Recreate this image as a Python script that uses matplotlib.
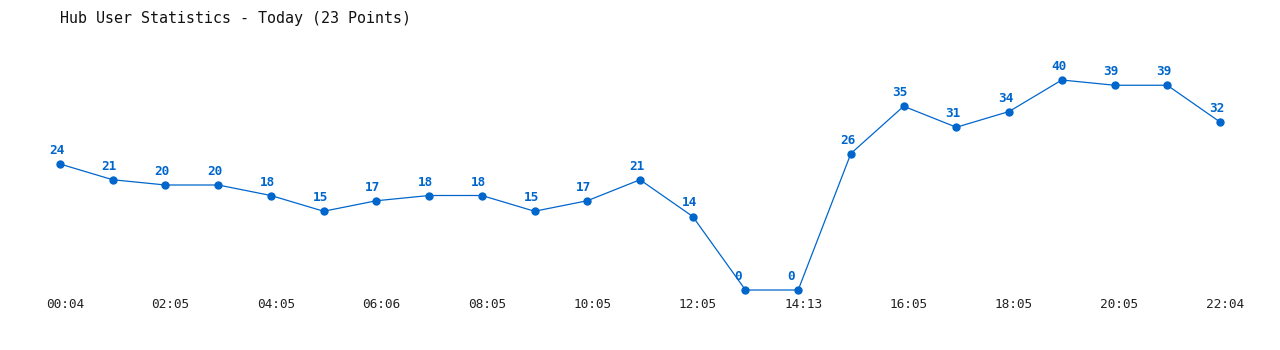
import matplotlib
matplotlib.use("Agg")
import matplotlib.pyplot as plt
import matplotlib.transforms as mtransforms

# data
times = ["00:04", "01:05", "02:05", "03:05", "04:05", "05:05", "06:06", "07:05",
         "08:05", "09:05", "10:05", "11:05", "12:05", "13:05", "14:13", "15:05",
         "16:05", "17:05", "18:05", "19:05", "20:05", "21:05", "22:04"]
users = [24, 21, 20, 20, 18, 15, 17, 18, 18, 15, 17, 21, 14, 0, 0, 26,
         35, 31, 34, 40, 39, 39, 32]

blue = "#0066cc"
mono = "DejaVu Sans Mono"

fig = plt.figure(figsize=(12.8, 3.5), dpi=100)
ax = fig.add_axes([60 / 1280, 60 / 350, 1160 / 1280, 210 / 350])
x = list(range(len(users)))
ax.plot(x, users, color=blue, lw=0.9, marker="o", markersize=5, clip_on=False)
ax.set_xlim(0, len(users) - 1)
ax.set_ylim(0, 40)

for xi, v in zip(x, users):
    ax.annotate(str(v), (xi, v), xytext=(-11, 7), textcoords="offset pixels",
                ha="left", va="bottom", color=blue, fontsize=9.2,
                fontweight="bold", family=mono)

ax.set_xticks(x[::2])
ax.set_xticklabels(times[::2], family=mono, fontsize=9.2, color="#222222")
ax.tick_params(axis="x", length=0, pad=6)
ax.set_yticks([])
offset = mtransforms.ScaledTranslation(5 / 100, 0, fig.dpi_scale_trans)
for lbl in ax.get_xticklabels():
    lbl.set_transform(lbl.get_transform() + offset)
for s in ax.spines.values():
    s.set_visible(False)

fig.text(60 / 1280, 1 - 18 / 350, "Hub User Statistics - Today (23 Points)",
         family=mono, fontsize=10.8, va="center", ha="left", color="#111111")

fig.savefig("out.png", dpi=100)
